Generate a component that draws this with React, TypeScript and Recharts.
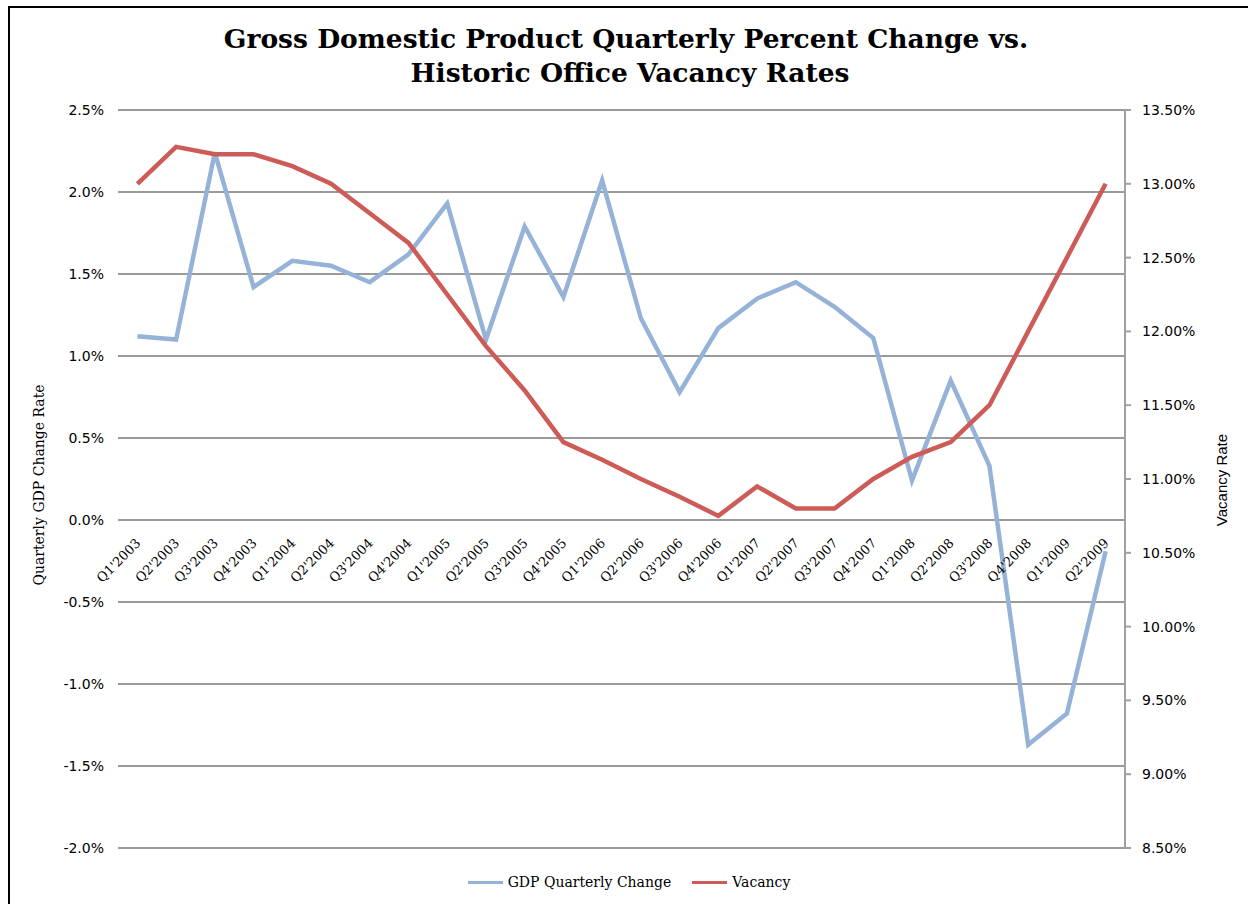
import React from 'react';
import { LineChart, Line, XAxis, YAxis, CartesianGrid, Legend } from 'recharts';

const quarters = [
  "Q1'2003", "Q2'2003", "Q3'2003", "Q4'2003",
  "Q1'2004", "Q2'2004", "Q3'2004", "Q4'2004",
  "Q1'2005", "Q2'2005", "Q3'2005", "Q4'2005",
  "Q1'2006", "Q2'2006", "Q3'2006", "Q4'2006",
  "Q1'2007", "Q2'2007", "Q3'2007", "Q4'2007",
  "Q1'2008", "Q2'2008", "Q3'2008", "Q4'2008",
  "Q1'2009", "Q2'2009",
];

const gdpChange = [
  1.12, 1.10, 2.24, 1.42,
  1.58, 1.55, 1.45, 1.62,
  1.93, 1.10, 1.79, 1.36,
  2.07, 1.23, 0.78, 1.17,
  1.35, 1.45, 1.30, 1.11,
  0.24, 0.85, 0.33, -1.37,
  -1.18, -0.19,
];

const vacancyRate = [
  13.00, 13.25, 13.20, 13.20,
  13.12, 13.00, 12.80, 12.60,
  12.25, 11.90, 11.60, 11.25,
  11.13, 11.00, 10.88, 10.75,
  10.95, 10.80, 10.80, 11.00,
  11.15, 11.25, 11.50, 12.00,
  12.50, 13.00,
];

const gdpTicks = [-2.0, -1.5, -1.0, -0.5, 0.0, 0.5, 1.0, 1.5, 2.0, 2.5];
const vacancyTicks = [8.5, 9.0, 9.5, 10.0, 10.5, 11.0, 11.5, 12.0, 12.5, 13.0, 13.5];

const seriesNames = ['GDP Quarterly Change', 'Vacancy'];
const seriesColors = ['#95B3D7', '#CD5B57'];

const data = quarters.map((q, i) => ({ q, gdp: gdpChange[i], vacancy: vacancyRate[i] }));

const CHART_W = 1238;
const CHART_H = 896;
const PLOT_TOP = 102;
const PLOT_BOTTOM = 840;
const PLOT_H = PLOT_BOTTOM - PLOT_TOP;
const GDP_MIN = gdpTicks[0];
const GDP_MAX = gdpTicks[gdpTicks.length - 1];
const ZERO_FROM_BOTTOM = (PLOT_H * (0 - GDP_MIN)) / (GDP_MAX - GDP_MIN);

const serif = '"DejaVu Serif", serif';
const sans = '"DejaVu Sans", sans-serif';

const XTick = (props: any) => {
  const { x, y, payload } = props;
  const ax = x + 4;
  const ay = y - ZERO_FROM_BOTTOM + 24;
  return (
    <text
      x={ax}
      y={ay}
      textAnchor="end"
      transform={`rotate(-45, ${ax}, ${ay})`}
      fontFamily={serif}
      fontSize={13}
      fill="#000"
    >
      {payload.value}
    </text>
  );
};

const LegendContent = () => (
  <div style={{ display: 'flex', justifyContent: 'center', alignItems: 'center', fontFamily: serif, fontSize: 14, color: '#000' }}>
    {seriesNames.map((n, i) => (
      <div key={n} style={{ display: 'flex', alignItems: 'center', marginRight: i === 0 ? 21 : 0 }}>
        <div style={{ width: 35, height: 3, background: seriesColors[i], marginRight: 5 }} />
        <span>{n}</span>
      </div>
    ))}
  </div>
);

export default function App() {
  return (
    <div
      style={{
        position: 'absolute',
        left: 8,
        top: 6,
        width: 1240,
        height: 898,
        borderLeft: '2px solid #000',
        borderTop: '2px solid #000',
        boxSizing: 'border-box',
        background: '#fff',
        overflow: 'hidden',
      }}
    >
      <LineChart
        width={CHART_W}
        height={CHART_H}
        data={data}
        margin={{ top: PLOT_TOP, right: 23, bottom: CHART_H - PLOT_BOTTOM - 1, left: 48 }}
      >
        <CartesianGrid yAxisId="left" vertical={false} horizontal={true} stroke="#9a9a9a" strokeWidth={2} strokeDasharray="" />
        <XAxis
          dataKey="q"
          scale="band"
          height={1}
          axisLine={false}
          tickLine={false}
          tickSize={0}
          tickMargin={0}
          interval={0}
          tick={<XTick />}
        />
        <YAxis
          yAxisId="left"
          orientation="left"
          width={60}
          domain={[GDP_MIN, GDP_MAX]}
          ticks={gdpTicks}
          allowDataOverflow
          axisLine={false}
          tickLine={false}
          tickSize={0}
          tickMargin={14}
          tick={{ fontFamily: sans, fontSize: 14, fill: '#000' }}
          tickFormatter={(v: number) => `${v.toFixed(1)}%`}
        />
        <YAxis
          yAxisId="right"
          orientation="right"
          width={100}
          domain={[vacancyTicks[0], vacancyTicks[vacancyTicks.length - 1]]}
          ticks={vacancyTicks}
          allowDataOverflow
          axisLine={{ stroke: '#a0a0a0', strokeWidth: 2 }}
          tickLine={{ stroke: '#a0a0a0', strokeWidth: 2 }}
          tickSize={6}
          tickMargin={11}
          tick={{ fontFamily: sans, fontSize: 14, fill: '#000', textAnchor: 'start' }}
          tickFormatter={(v: number) => `${v.toFixed(2)}%`}
        />
        <Legend
          verticalAlign="middle"
          align="center"
          content={<LegendContent />}
          wrapperStyle={{ position: 'absolute', top: 866, left: 0, width: CHART_W }}
        />
        <Line
          yAxisId="left"
          type="linear"
          dataKey="gdp"
          name={seriesNames[0]}
          stroke={seriesColors[0]}
          strokeWidth={4.5}
          dot={false}
          isAnimationActive={false}
        />
        <Line
          yAxisId="right"
          type="linear"
          dataKey="vacancy"
          name={seriesNames[1]}
          stroke={seriesColors[1]}
          strokeWidth={4.5}
          dot={false}
          isAnimationActive={false}
        />
      </LineChart>
      <svg
        width={1240}
        height={898}
        style={{ position: 'absolute', left: 0, top: 0, pointerEvents: 'none' }}
      >
        <text x={616} y={40} textAnchor="middle" fontFamily={serif} fontWeight="bold" fontSize={26.5} fill="#000">
          Gross Domestic Product Quarterly Percent Change vs.
        </text>
        <text x={620} y={74} textAnchor="middle" fontFamily={serif} fontWeight="bold" fontSize={26.5} fill="#000">
          Historic Office Vacancy Rates
        </text>
        <text
          x={0}
          y={0}
          transform="translate(34, 477) rotate(-90)"
          textAnchor="middle"
          fontFamily={serif}
          fontSize={14}
          fill="#000"
        >
          Quarterly GDP Change Rate
        </text>
        <text
          x={0}
          y={0}
          transform="translate(1217, 472) rotate(-90)"
          textAnchor="middle"
          fontFamily='"Liberation Sans", Arial, sans-serif'
          fontSize={15}
          fill="#000"
        >
          Vacancy Rate
        </text>
      </svg>
    </div>
  );
}
